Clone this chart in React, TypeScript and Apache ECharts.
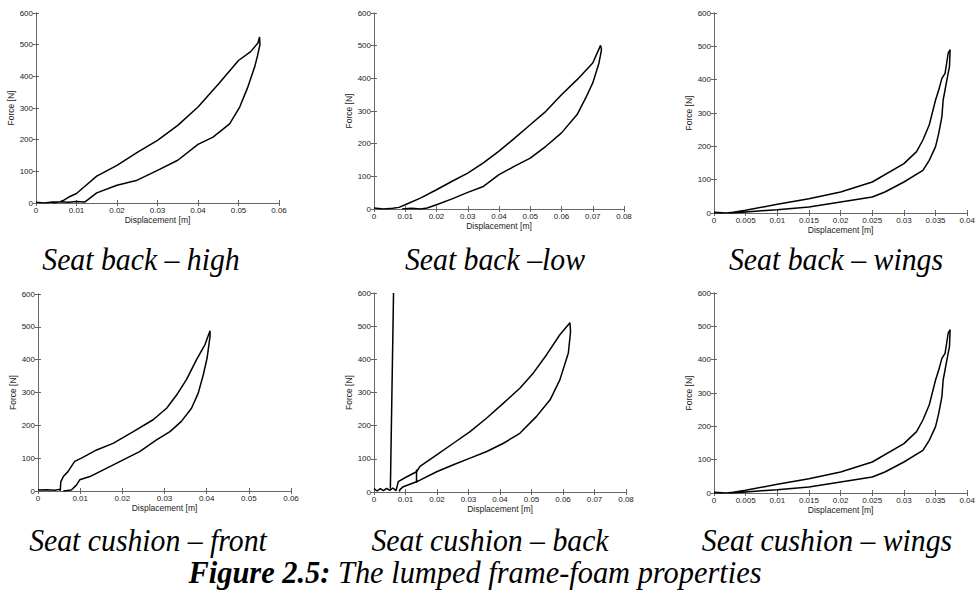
import React, { useEffect, useRef } from 'react';
import * as echarts from 'echarts';

// ---- data (x: displacement [m], y: force [N]) ----
const highUpper: number[][] = [[0,2],[0.002,0],[0.004,3],[0.006,4],[0.007,10],[0.008,18],[0.01,30],[0.012,52],[0.015,85],[0.02,119],[0.025,160],[0.03,198],[0.035,245],[0.04,303],[0.045,375],[0.05,450],[0.053,478],[0.0548,505],[0.0552,524]];
const highLower: number[][] = [[0.0553,500],[0.0546,460],[0.054,430],[0.0523,366],[0.0503,303],[0.0478,250],[0.0437,208],[0.04,185],[0.035,135],[0.03,103],[0.025,72],[0.02,56],[0.015,32],[0.013,12],[0.012,3],[0.01,5],[0.008,2],[0.006,4],[0.004,0]];

const lowUpper: number[][] = [[0,3],[0.003,0],[0.006,2],[0.008,5],[0.01,13],[0.015,34],[0.02,59],[0.025,85],[0.03,110],[0.035,141],[0.04,177],[0.045,217],[0.05,258],[0.055,299],[0.06,350],[0.065,396],[0.07,447],[0.0725,501]];
const lowLower: number[][] = [[0.0728,488],[0.072,447],[0.07,386],[0.068,345],[0.065,289],[0.06,233],[0.055,192],[0.05,156],[0.045,131],[0.04,105],[0.035,69],[0.03,51],[0.025,31],[0.02,13],[0.017,3],[0.015,0],[0.012,2],[0.009,0]];

const wingsUpper: number[][] = [[0,2],[0.002,0],[0.003,2],[0.005,8],[0.01,26],[0.015,43],[0.02,63],[0.025,93],[0.03,148],[0.032,184],[0.033,219],[0.034,264],[0.035,339],[0.0355,369],[0.036,404],[0.0365,419],[0.037,480],[0.0373,490]];
const wingsLower: number[][] = [[0.0372,440],[0.0368,400],[0.0362,339],[0.036,289],[0.0355,239],[0.035,199],[0.034,158],[0.033,128],[0.03,93],[0.027,63],[0.025,48],[0.02,33],[0.015,18],[0.01,10],[0.007,6],[0.003,0],[0,0]];

const frontUpper: number[][] = [[0,3],[0.002,4],[0.004,2],[0.005,5],[0.0053,2],[0.0054,28],[0.006,44],[0.0071,59],[0.0087,90],[0.0103,100],[0.0139,125],[0.0178,145],[0.0226,181],[0.0273,217],[0.0305,252],[0.0329,293],[0.0352,339],[0.0376,400],[0.0396,446],[0.0408,488]];
const frontLower: number[][] = [[0.0408,471],[0.0401,405],[0.0392,354],[0.038,298],[0.0364,252],[0.034,212],[0.0313,181],[0.0281,156],[0.0241,120],[0.0202,95],[0.0162,69],[0.0123,44],[0.0099,34],[0.0091,18],[0.0079,3],[0.006,0]];

const backUpper: number[][] = [[0,10],[0.001,3],[0.002,10],[0.003,4],[0.004,11],[0.005,5],[0.006,12],[0.007,4],[0.0077,31],[0.0104,46],[0.0135,61],[0.0146,77],[0.0199,112],[0.0252,147],[0.0305,182],[0.0358,223],[0.0411,268],[0.0463,313],[0.0506,359],[0.0548,414],[0.059,474],[0.0622,510]];
const backLower: number[][] = [[0.0624,484],[0.0617,419],[0.059,338],[0.0559,278],[0.0516,228],[0.0463,177],[0.0411,147],[0.0358,122],[0.0305,102],[0.0252,82],[0.0199,61],[0.0146,36],[0.0135,31],[0.0093,16],[0.0083,8],[0.008,2]];
const backSpike: number[][] = [[0.0052,10],[0.0062,600]];
const backStep: number[][] = [[0.0135,28],[0.0135,68]];

const captions = ['Seat back – high', 'Seat back –low', 'Seat back – wings', 'Seat cushion – front', 'Seat cushion – back', 'Seat cushion – wings'];
const xMaxes = [0.06, 0.08, 0.04, 0.06, 0.08, 0.04];
const xSteps = [0.01, 0.01, 0.005, 0.01, 0.01, 0.005];
const yMax = 600;
const yStep = 100;
const xName = 'Displacement [m]';
const yName = 'Force [N]';
const figureLabel = 'Figure 2.5:';
const figureText = ' The lumped frame-foam properties';

const loops: number[][][] = [
  highUpper.concat(highLower),
  lowUpper.concat(lowLower),
  wingsUpper.concat(wingsLower),
  frontUpper.concat(frontLower),
  backUpper.concat(backLower),
  wingsUpper.concat(wingsLower),
];

// ---- layout ----
const grids = [
  { left: 36, top: 13, width: 243, height: 190 },
  { left: 374, top: 13, width: 250, height: 196 },
  { left: 714, top: 13, width: 255, height: 200 },
  { left: 38, top: 294, width: 253, height: 197 },
  { left: 374, top: 293, width: 252, height: 199 },
  { left: 714, top: 293, width: 255, height: 200 },
];
const captionPos = [[141, 259], [495, 259], [836, 259], [148, 540], [490, 540], [827, 540]];

export default function App() {
  const ref = useRef<HTMLDivElement>(null);
  useEffect(() => {
    if (!ref.current) return;
    const chart = echarts.init(ref.current, null, { renderer: 'svg' });
    const axisColor = '#666';
    const labelStyle = { color: '#222', fontSize: 8, fontFamily: 'Liberation Sans' };
    const xAxes: any[] = [];
    const yAxes: any[] = [];
    const series: any[] = [];
    grids.forEach((g, i) => {
      const base = { min: 0, max: xMaxes[i], interval: xSteps[i], gridIndex: i, splitLine: { show: false } };
      xAxes.push({
        ...base, type: 'value', position: 'bottom',
        axisLine: { lineStyle: { color: axisColor, width: 1 } },
        axisTick: { inside: true, length: 3, lineStyle: { color: axisColor } },
        axisLabel: { ...labelStyle, margin: 3, showMaxLabel: true, showMinLabel: true },
        name: xName, nameLocation: 'middle', nameGap: 12,
        nameTextStyle: { ...labelStyle, fontSize: 8.5 },
      });
      xAxes.push({
        ...base, type: 'value', position: 'top',
        axisLine: { lineStyle: { color: axisColor, width: 1 } },
        axisTick: { inside: true, length: 3, lineStyle: { color: axisColor } },
        axisLabel: { show: false },
      });
      const ybase = { min: 0, max: yMax, interval: yStep, gridIndex: i, splitLine: { show: false } };
      yAxes.push({
        ...ybase, type: 'value', position: 'left',
        axisLine: { show: true, lineStyle: { color: axisColor, width: 1 } },
        axisTick: { show: true, inside: true, length: 3, lineStyle: { color: axisColor } },
        axisLabel: { ...labelStyle, margin: 3 },
        name: yName, nameLocation: 'middle', nameGap: 16,
        nameTextStyle: { ...labelStyle, fontSize: 8.5 },
      });
      yAxes.push({
        ...ybase, type: 'value', position: 'right',
        axisLine: { show: true, lineStyle: { color: axisColor, width: 1 } },
        axisTick: { show: true, inside: true, length: 3, lineStyle: { color: axisColor } },
        axisLabel: { show: false },
      });
      const lineCommon = {
        type: 'line', xAxisIndex: 2 * i, yAxisIndex: 2 * i, showSymbol: false, symbol: 'none',
        lineStyle: { color: '#000', width: 1.5 }, clip: true, silent: true,
      };
      series.push({ ...lineCommon, data: loops[i] });
      if (i === 4) {
        series.push({ ...lineCommon, data: backSpike });
        series.push({ ...lineCommon, data: backStep });
      }
    });
    const graphic: any[] = captions.map((c, i) => ({
      type: 'text', x: captionPos[i][0], y: captionPos[i][1], scaleX: 0.93,
      style: {
        text: c, fill: '#000', fontFamily: 'Liberation Serif', fontStyle: 'italic', fontSize: 32,
        align: 'center', verticalAlign: 'middle',
      },
    }));
    graphic.push({
      type: 'text', x: 475, y: 572, scaleX: 0.95,
      style: {
        text: '{b|' + figureLabel + '}{n|' + figureText + '}',
        align: 'center', verticalAlign: 'middle',
        rich: {
          b: { fontFamily: 'Liberation Serif', fontStyle: 'italic', fontWeight: 'bold', fontSize: 32, fill: '#000' },
          n: { fontFamily: 'Liberation Serif', fontStyle: 'italic', fontSize: 32, fill: '#000' },
        },
      },
    });
    chart.setOption({
      animation: false,
      backgroundColor: '#fff',
      grid: grids.map((g) => ({ ...g, containLabel: false })),
      xAxis: xAxes,
      yAxis: yAxes,
      series,
      graphic,
    });
    return () => chart.dispose();
  }, []);
  return <div ref={ref} style={{ position: 'absolute', left: 0, top: 0, width: 978, height: 591 }} />;
}
